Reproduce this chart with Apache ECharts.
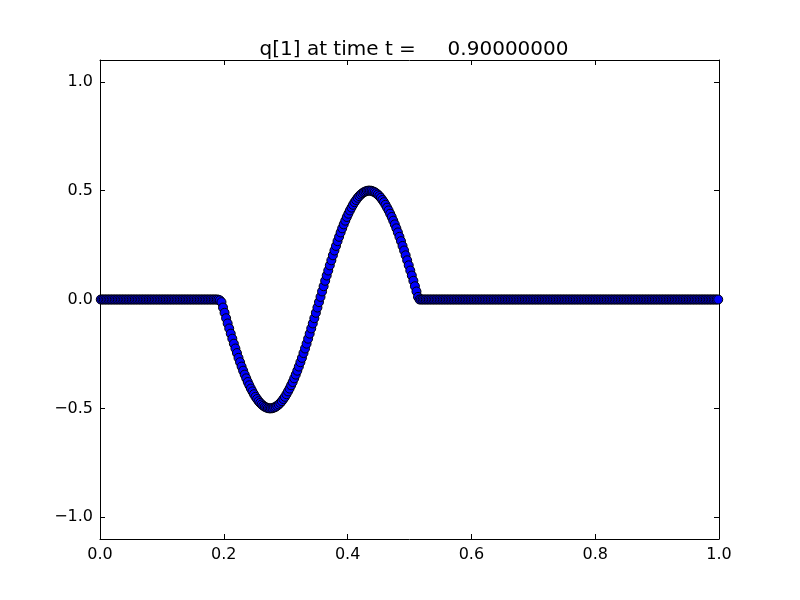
<!DOCTYPE html>
<html>
<head>
<meta charset="utf-8">
<script src="https://cdn.jsdelivr.net/npm/echarts@6/dist/echarts.min.js"></script>
<style>html,body{margin:0;padding:0;background:#fff;}#c{width:800px;height:600px;}</style>
</head>
<body>
<div id="c"></div>
<script>
var titleText = 'q[1] at time t =     0.90000000';
var yTickMin = -1.0, yTickMax = 1.0, yTickStep = 0.5;
var xs = [
0.00125,0.00375,0.00625,0.00875,0.01125,0.01375,0.01625,0.01875,0.02125,0.02375,
0.02625,0.02875,0.03125,0.03375,0.03625,0.03875,0.04125,0.04375,0.04625,0.04875,
0.05125,0.05375,0.05625,0.05875,0.06125,0.06375,0.06625,0.06875,0.07125,0.07375,
0.07625,0.07875,0.08125,0.08375,0.08625,0.08875,0.09125,0.09375,0.09625,0.09875,
0.10125,0.10375,0.10625,0.10875,0.11125,0.11375,0.11625,0.11875,0.12125,0.12375,
0.12625,0.12875,0.13125,0.13375,0.13625,0.13875,0.14125,0.14375,0.14625,0.14875,
0.15125,0.15375,0.15625,0.15875,0.16125,0.16375,0.16625,0.16875,0.17125,0.17375,
0.17625,0.17875,0.18125,0.18375,0.18625,0.18875,0.19125,0.19375,0.19625,0.19875,
0.20125,0.20375,0.20625,0.20875,0.21125,0.21375,0.21625,0.21875,0.22125,0.22375,
0.22625,0.22875,0.23125,0.23375,0.23625,0.23875,0.24125,0.24375,0.24625,0.24875,
0.25125,0.25375,0.25625,0.25875,0.26125,0.26375,0.26625,0.26875,0.27125,0.27375,
0.27625,0.27875,0.28125,0.28375,0.28625,0.28875,0.29125,0.29375,0.29625,0.29875,
0.30125,0.30375,0.30625,0.30875,0.31125,0.31375,0.31625,0.31875,0.32125,0.32375,
0.32625,0.32875,0.33125,0.33375,0.33625,0.33875,0.34125,0.34375,0.34625,0.34875,
0.35125,0.35375,0.35625,0.35875,0.36125,0.36375,0.36625,0.36875,0.37125,0.37375,
0.37625,0.37875,0.38125,0.38375,0.38625,0.38875,0.39125,0.39375,0.39625,0.39875,
0.40125,0.40375,0.40625,0.40875,0.41125,0.41375,0.41625,0.41875,0.42125,0.42375,
0.42625,0.42875,0.43125,0.43375,0.43625,0.43875,0.44125,0.44375,0.44625,0.44875,
0.45125,0.45375,0.45625,0.45875,0.46125,0.46375,0.46625,0.46875,0.47125,0.47375,
0.47625,0.47875,0.48125,0.48375,0.48625,0.48875,0.49125,0.49375,0.49625,0.49875,
0.50125,0.50375,0.50625,0.50875,0.51125,0.51375,0.51625,0.51875,0.52125,0.52375,
0.52625,0.52875,0.53125,0.53375,0.53625,0.53875,0.54125,0.54375,0.54625,0.54875,
0.55125,0.55375,0.55625,0.55875,0.56125,0.56375,0.56625,0.56875,0.57125,0.57375,
0.57625,0.57875,0.58125,0.58375,0.58625,0.58875,0.59125,0.59375,0.59625,0.59875,
0.60125,0.60375,0.60625,0.60875,0.61125,0.61375,0.61625,0.61875,0.62125,0.62375,
0.62625,0.62875,0.63125,0.63375,0.63625,0.63875,0.64125,0.64375,0.64625,0.64875,
0.65125,0.65375,0.65625,0.65875,0.66125,0.66375,0.66625,0.66875,0.67125,0.67375,
0.67625,0.67875,0.68125,0.68375,0.68625,0.68875,0.69125,0.69375,0.69625,0.69875,
0.70125,0.70375,0.70625,0.70875,0.71125,0.71375,0.71625,0.71875,0.72125,0.72375,
0.72625,0.72875,0.73125,0.73375,0.73625,0.73875,0.74125,0.74375,0.74625,0.74875,
0.75125,0.75375,0.75625,0.75875,0.76125,0.76375,0.76625,0.76875,0.77125,0.77375,
0.77625,0.77875,0.78125,0.78375,0.78625,0.78875,0.79125,0.79375,0.79625,0.79875,
0.80125,0.80375,0.80625,0.80875,0.81125,0.81375,0.81625,0.81875,0.82125,0.82375,
0.82625,0.82875,0.83125,0.83375,0.83625,0.83875,0.84125,0.84375,0.84625,0.84875,
0.85125,0.85375,0.85625,0.85875,0.86125,0.86375,0.86625,0.86875,0.87125,0.87375,
0.87625,0.87875,0.88125,0.88375,0.88625,0.88875,0.89125,0.89375,0.89625,0.89875,
0.90125,0.90375,0.90625,0.90875,0.91125,0.91375,0.91625,0.91875,0.92125,0.92375,
0.92625,0.92875,0.93125,0.93375,0.93625,0.93875,0.94125,0.94375,0.94625,0.94875,
0.95125,0.95375,0.95625,0.95875,0.96125,0.96375,0.96625,0.96875,0.97125,0.97375,
0.97625,0.97875,0.98125,0.98375,0.98625,0.98875,0.99125,0.99375,0.99625,0.99875
];
var q1 = [
0,0,0,0,0,0,0,0,0,0,
0,0,0,0,0,0,0,0,0,0,
0,0,0,0,0,0,0,0,0,0,
0,0,0,0,0,0,0,0,0,0,
0,0,0,0,0,0,0,0,0,0,
0,0,0,0,0,0,0,0,0,0,
0,0,0,0,0,0,0,0,0,0,
0,0,0,0,0,0,-0.001,-0.004,-0.012,-0.037,
-0.061,-0.086,-0.110,-0.133,-0.157,-0.180,-0.203,-0.225,-0.246,-0.268,
-0.288,-0.308,-0.327,-0.345,-0.362,-0.379,-0.394,-0.409,-0.422,-0.435,
-0.447,-0.457,-0.467,-0.475,-0.482,-0.488,-0.493,-0.496,-0.499,-0.500,
-0.500,-0.499,-0.496,-0.493,-0.488,-0.482,-0.475,-0.467,-0.457,-0.447,
-0.435,-0.422,-0.409,-0.394,-0.379,-0.362,-0.345,-0.327,-0.308,-0.288,
-0.268,-0.246,-0.225,-0.203,-0.180,-0.157,-0.133,-0.110,-0.086,-0.061,
-0.037,-0.012,0.012,0.037,0.061,0.086,0.110,0.133,0.157,0.180,
0.203,0.225,0.246,0.268,0.288,0.308,0.327,0.345,0.362,0.379,
0.394,0.409,0.422,0.435,0.447,0.457,0.467,0.475,0.482,0.488,
0.493,0.496,0.499,0.500,0.500,0.499,0.496,0.493,0.488,0.482,
0.475,0.467,0.457,0.447,0.435,0.422,0.409,0.394,0.379,0.362,
0.345,0.327,0.308,0.288,0.268,0.246,0.225,0.203,0.180,0.157,
0.133,0.110,0.086,0.061,0.037,0.012,0,0,0,0,
0,0,0,0,0,0,0,0,0,0,
0,0,0,0,0,0,0,0,0,0,
0,0,0,0,0,0,0,0,0,0,
0,0,0,0,0,0,0,0,0,0,
0,0,0,0,0,0,0,0,0,0,
0,0,0,0,0,0,0,0,0,0,
0,0,0,0,0,0,0,0,0,0,
0,0,0,0,0,0,0,0,0,0,
0,0,0,0,0,0,0,0,0,0,
0,0,0,0,0,0,0,0,0,0,
0,0,0,0,0,0,0,0,0,0,
0,0,0,0,0,0,0,0,0,0,
0,0,0,0,0,0,0,0,0,0,
0,0,0,0,0,0,0,0,0,0,
0,0,0,0,0,0,0,0,0,0,
0,0,0,0,0,0,0,0,0,0,
0,0,0,0,0,0,0,0,0,0,
0,0,0,0,0,0,0,0,0,0,
0,0,0,0,0,0,0,0,0,0
];
var data = xs.map(function (x, i) { return [x, q1[i]]; });
var font = 'DejaVu Sans';
function fmt(v) {
  var s = v.toFixed(1);
  return s.replace('-', '\u2212');
}
var lineStyle = { color: '#000', width: 1 };
// outer frame: y from -1.1 to 1.1; inner tick grid: y from -1 to 1
var H = 600, top0 = 60, bottom0 = 61;
var plotH = H - top0 - bottom0;
var pad = plotH * 0.1 / 2.2;
var chart = echarts.init(document.getElementById('c'), null, { renderer: 'canvas' });
chart.setOption({
  animation: false,
  backgroundColor: '#fff',
  title: {
    text: titleText,
    left: 409, top: 35, textAlign: 'center',
    textStyle: { fontFamily: font, fontSize: 20, fontWeight: 'normal', color: '#000' }
  },
  grid: [
    { left: 100, right: 81, top: top0, bottom: bottom0, containLabel: false },
    { left: 100, right: 81, top: top0 + pad, bottom: bottom0 + pad, containLabel: false }
  ],
  xAxis: [{
    gridIndex: 0, type: 'value', min: 0, max: 1, interval: 0.2, position: 'bottom',
    axisLine: { show: true, onZero: false, lineStyle: lineStyle },
    axisTick: { show: true, inside: true, length: 5, lineStyle: lineStyle },
    axisLabel: { show: true, margin: 8, fontFamily: font, fontSize: 16, color: '#000', formatter: fmt },
    splitLine: { show: false }
  }, {
    gridIndex: 0, type: 'value', min: 0, max: 1, interval: 0.2, position: 'top',
    axisLine: { show: true, onZero: false, lineStyle: lineStyle },
    axisTick: { show: true, inside: true, length: 5, lineStyle: lineStyle },
    axisLabel: { show: false }, splitLine: { show: false }
  }, {
    gridIndex: 1, type: 'value', min: 0, max: 1, show: false
  }],
  yAxis: [{
    gridIndex: 0, type: 'value', min: -1.1, max: 1.1, position: 'left',
    axisLine: { show: true, onZero: false, lineStyle: lineStyle },
    axisTick: { show: false }, axisLabel: { show: false }, splitLine: { show: false }
  }, {
    gridIndex: 0, type: 'value', min: -1.1, max: 1.1, position: 'right',
    axisLine: { show: true, onZero: false, lineStyle: lineStyle },
    axisTick: { show: false }, axisLabel: { show: false }, splitLine: { show: false }
  }, {
    gridIndex: 1, type: 'value', min: yTickMin, max: yTickMax, interval: yTickStep, position: 'left',
    axisLine: { show: false, onZero: false },
    axisTick: { show: true, inside: true, length: 5, lineStyle: lineStyle },
    axisLabel: { show: true, margin: 7, fontFamily: font, fontSize: 16, color: '#000', formatter: fmt },
    splitLine: { show: false }
  }, {
    gridIndex: 1, type: 'value', min: yTickMin, max: yTickMax, interval: yTickStep, position: 'right',
    axisLine: { show: false, onZero: false },
    axisTick: { show: true, inside: true, length: 5, lineStyle: lineStyle },
    axisLabel: { show: false }, splitLine: { show: false }
  }],
  series: [{
    type: 'scatter',
    xAxisIndex: 0, yAxisIndex: 0,
    data: data,
    symbol: 'circle',
    symbolSize: 9,
    clip: true,
    itemStyle: { color: '#0000ff', borderColor: '#000', borderWidth: 1, opacity: 1 }
  }]
});
</script>
</body>
</html>
